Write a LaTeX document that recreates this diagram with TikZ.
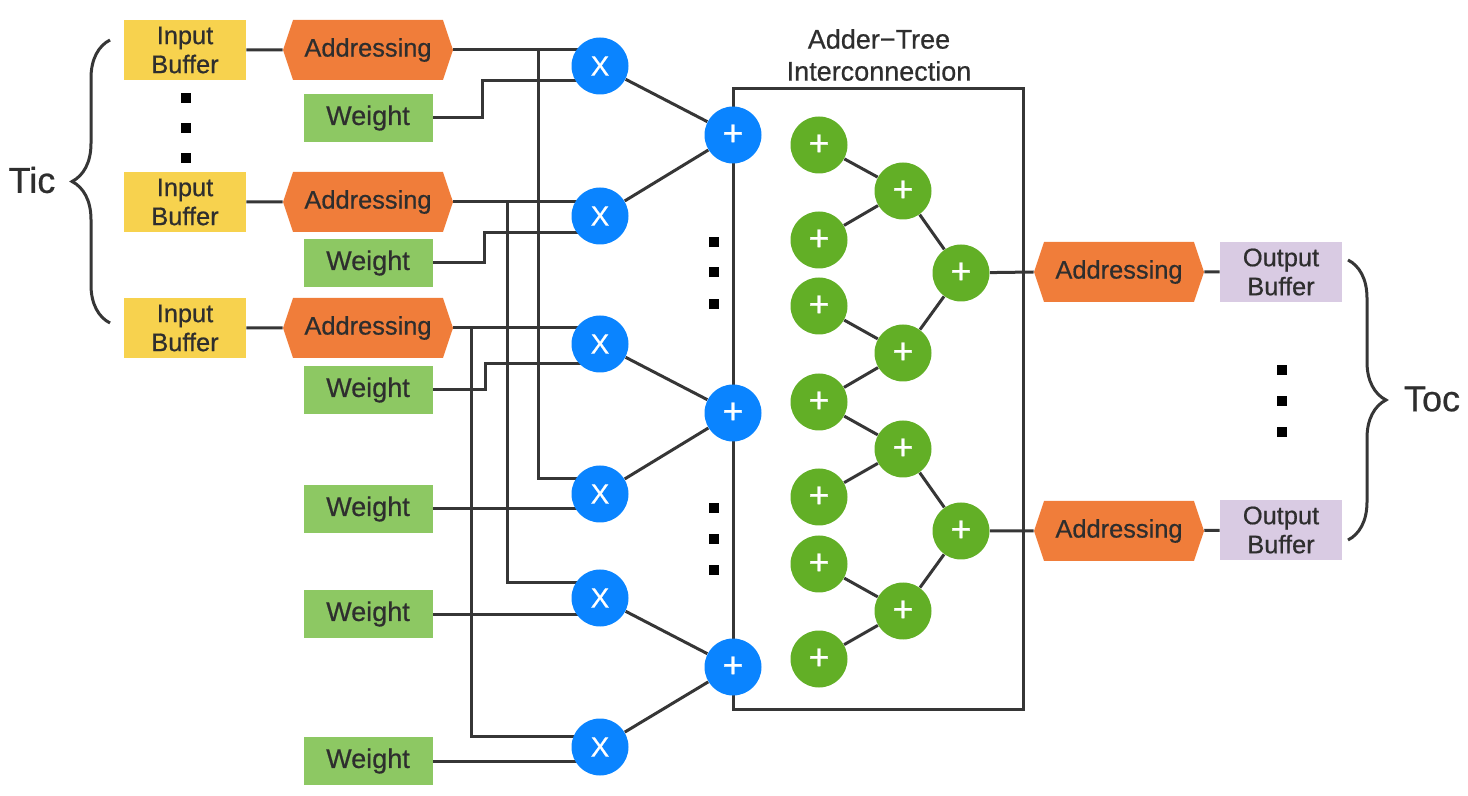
\documentclass[tikz,border=0pt]{standalone}
\usepackage{fontspec}
\setmainfont[UprightFeatures={FakeBold=0.6}]{Liberation Sans}
\usetikzlibrary{calc,shapes.symbols,decorations.pathreplacing}
\definecolor{Line}{HTML}{363636}
\definecolor{Txt}{HTML}{2E2E2E}
\definecolor{InBuf}{HTML}{F7D24E}
\definecolor{Addr}{HTML}{F07D3A}
\definecolor{Wgt}{HTML}{8DC863}
\definecolor{Mul}{HTML}{0A84FF}
\definecolor{Tree}{HTML}{62AF26}
\definecolor{OutBuf}{HTML}{D9CBE3}
\pgfdeclarelayer{bg}\pgfsetlayers{bg,main}

\begin{document}
\begin{tikzpicture}[x=0.5pt,y=-0.5pt,
 font=\fontsize{12.7}{14.5}\selectfont,text=Txt,
 buf/.style={minimum width=61pt,minimum height=30pt,inner sep=0pt,align=center},
 ib/.style={buf,fill=InBuf},
 ob/.style={buf,fill=OutBuf},
 hexa/.style={signal,signal to=west and east,signal pointer angle=143,fill=Addr,minimum width=85pt,minimum height=30pt,inner sep=0pt},
 wgt/.style={fill=Wgt,minimum width=64.5pt,minimum height=24pt,inner sep=0pt,font=\fontsize{13.5}{15}\selectfont},
 mulc/.style={circle,fill=Mul,minimum size=28.5pt,inner sep=0pt,text=white,font=\fontsize{14}{14}\selectfont},
 sumc/.style={circle,fill=Tree,minimum size=28.5pt,inner sep=0pt,text=white,font=\fontsize{18}{18}\selectfont},
 wire/.style={draw=Line,line width=1.5pt},
 sq/.style={fill=black,minimum size=5pt,inner sep=0pt},
 br/.style={draw=Line,line width=1.5pt,decorate,decoration={brace,amplitude=19pt}}
]
\useasboundingbox (0,0) rectangle (1468,796);
\node[ib] (ib1) at (185,50) {Input\\Buffer};
\node[ib] (ib2) at (185,202) {Input\\Buffer};
\node[ib] (ib3) at (185,328) {Input\\Buffer};
\foreach \y in {98,128,158} \node[sq] (ld\y) at (186,\y) {};
\draw[br] (110,323) -- (110,40);
\node[font=\fontsize{18}{18}\selectfont] (tic) at (32,180) {Tic};
\node[hexa] (ad1) at (368,50) {Addressing};
\node[hexa] (ad2) at (368,202) {Addressing};
\node[hexa] (ad3) at (368,328) {Addressing};
\node[wgt] (w1) at (368,118) {Weight};
\node[wgt] (w2) at (368,263) {Weight};
\node[wgt] (w3) at (368,390) {Weight};
\node[wgt] (w4) at (368,509) {Weight};
\node[wgt] (w5) at (368,614) {Weight};
\node[wgt] (w6) at (368,761) {Weight};
\node[mulc] (x1) at (600,66) {X};
\node[mulc] (x2) at (600,216) {X};
\node[mulc] (x3) at (600,344) {X};
\node[mulc] (x4) at (600,494) {X};
\node[mulc] (x5) at (600,598) {X};
\node[mulc] (x6) at (600,747) {X};
\node[draw=Line,line width=1.5pt,minimum width=145pt,minimum height=310pt,inner sep=0pt] (box) at (878,399) {};
\node[align=center,font=\fontsize{13.5}{16}\selectfont] (lbl) at (879,55) {Adder−Tree\\Interconnection};
\node[mulc,font=\fontsize{18}{18}\selectfont] (p1) at (733,135) {+};
\node[mulc,font=\fontsize{18}{18}\selectfont] (p2) at (733,413) {+};
\node[mulc,font=\fontsize{18}{18}\selectfont] (p3) at (733,667) {+};
\foreach \y in {242,272,304,508,539,570} \node[sq] (md\y) at (714,\y) {};
\node[sumc] (l1) at (819,145) {+};
\node[sumc] (l2) at (819,240) {+};
\node[sumc] (l3) at (819,306) {+};
\node[sumc] (l4) at (819,402) {+};
\node[sumc] (l5) at (819,497) {+};
\node[sumc] (l6) at (819,564) {+};
\node[sumc] (l7) at (819,659) {+};
\node[sumc] (m1) at (903,191) {+};
\node[sumc] (m2) at (903,353) {+};
\node[sumc] (m3) at (903,449) {+};
\node[sumc] (m4) at (903,611) {+};
\node[sumc] (r1) at (961,273) {+};
\node[sumc] (r2) at (961,531) {+};
\node[hexa] (oa1) at (1119,272) {Addressing};
\node[hexa] (oa2) at (1119,531) {Addressing};
\node[ob] (ob1) at (1281,272) {Output\\Buffer};
\node[ob] (ob2) at (1281,530) {Output\\Buffer};
\foreach \y in {370,401,432} \node[sq] (rd\y) at (1282,\y) {};
\draw[br] (1348,260) -- (1348,540);
\node[font=\fontsize{18}{18}\selectfont] (toc) at (1432,399) {Toc};
\begin{pgfonlayer}{bg}
\draw[wire] (ib1)--(ad1) (ib2)--(ad2) (ib3)--(ad3);
\draw[wire] (ad1.east)--(x1.center|-ad1.east) (ad1.east)--++(85,0)|-($(x4)+(0,-15)$);
\draw[wire] (ad2.east)--(x2.center|-ad2.east) (ad2.east)--++(54,0)|-($(x5)+(0,-15)$);
\draw[wire] (ad3.east)--(x3.center|-ad3.east) (ad3.east)--++(18,0)|-($(x6)+(0,-11)$);
\draw[wire] (w1.east)--++(50,0)|-($(x1)+(0,15)$) (w2.east)--++(52,0)|-($(x2)+(0,17)$) (w3.east)--++(53,0)|-($(x3)+(0,20)$);
\draw[wire] (w4.east)--(x4.center|-w4.east) (w5.east)--(x5.center|-w5.east) (w6.east)--(x6.center|-w6.east);
\draw[wire] (x1)--(p1) (x2)--(p1) (x3)--(p2) (x4)--(p2) (x5)--(p3) (x6)--(p3);
\draw[wire] (l1)--(m1) (l2)--(m1) (l3)--(m2) (l4)--(m2) (l4)--(m3) (l5)--(m3) (l6)--(m4) (l7)--(m4);
\draw[wire] (m1)--(r1) (m2)--(r1) (m3)--(r2) (m4)--(r2);
\draw[wire] (r1)--(oa1.west) (r2)--(oa2.west) (oa1)--(ob1) (oa2)--(ob2);
\end{pgfonlayer}
\end{tikzpicture}
\end{document}
